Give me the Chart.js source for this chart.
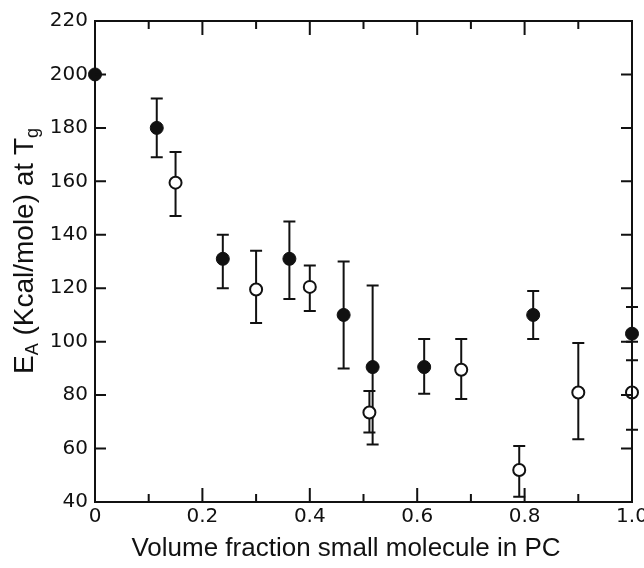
<!DOCTYPE html>
<html>
<head>
<meta charset="utf-8">
<script src="https://cdn.jsdelivr.net/npm/chart.js@4.4.1/dist/chart.umd.min.js"></script>
<style>
  html, body { margin: 0; padding: 0; background: #fff; }
  #wrap { width: 644px; height: 568px; }
</style>
</head>
<body>
<div id="wrap"><canvas id="chart" width="644" height="568"></canvas></div>
<script>
// filled circles
const xFilled = [0, 0.115, 0.238, 0.362, 0.463, 0.517, 0.613, 0.816, 1.0];
const yFilled = [200, 180, 131, 131, 110, 90.5, 90.5, 110, 103];
const hiFilled = [null, 191, 140, 145, 130, 121, 101, 119, 113];
const loFilled = [null, 169, 120, 116, 90, 61.5, 80.5, 101, 93];

// open circles
const xOpen = [0.15, 0.30, 0.40, 0.511, 0.682, 0.79, 0.90, 1.0];
const yOpen = [159.5, 119.5, 120.5, 73.5, 89.5, 52, 81, 81];
const hiOpen = [171, 134, 128.5, 81.5, 101, 61, 99.5, 100];
const loOpen = [147, 107, 111.5, 66, 78.5, 42, 63.5, 67];

const xTickLabels = ["0", "0.2", "0.4", "0.6", "0.8", "1.0"];
const xTitle = "Volume fraction small molecule in PC";

const TICKFONT = "'DejaVu Sans', sans-serif";
const TITLEFONT = "'Liberation Sans', Arial, sans-serif";

const toPoints = (xs, ys) => xs.map((x, i) => ({ x: x, y: ys[i] }));

// error bars, drawn before the markers so open circles sit on top
const errorBars = {
  id: "errorBars",
  beforeDatasetsDraw(chart) {
    const { ctx, scales: { x, y } } = chart;
    const sets = [[xFilled, hiFilled, loFilled], [xOpen, hiOpen, loOpen]];
    ctx.save();
    ctx.strokeStyle = "#111";
    ctx.lineWidth = 2;
    sets.forEach(([xs, his, los]) => {
      xs.forEach((xv, i) => {
        if (his[i] == null) return;
        const px = x.getPixelForValue(xv);
        const top = y.getPixelForValue(his[i]);
        const bot = y.getPixelForValue(los[i]);
        ctx.beginPath();
        ctx.moveTo(px, top); ctx.lineTo(px, bot);
        ctx.moveTo(px - 6, top); ctx.lineTo(px + 6, top);
        ctx.moveTo(px - 6, bot); ctx.lineTo(px + 6, bot);
        ctx.stroke();
      });
    });
    ctx.restore();
  }
};

// frame with inward ticks on all four sides, plus the axis titles
const frame = {
  id: "frame",
  afterDraw(chart) {
    const { ctx, chartArea: a, scales: { x, y } } = chart;
    ctx.save();
    ctx.strokeStyle = "#111";
    ctx.lineWidth = 2;
    ctx.strokeRect(a.left, a.top, a.right - a.left, a.bottom - a.top);
    ctx.beginPath();
    x.ticks.forEach((t) => {
      const px = x.getPixelForValue(t.value);
      const major = Math.round(t.value * 10) % 2 === 0;
      const len = major ? 14 : 8;
      ctx.moveTo(px, a.bottom); ctx.lineTo(px, a.bottom - len);
      ctx.moveTo(px, a.top); ctx.lineTo(px, a.top + len);
    });
    y.ticks.forEach((t) => {
      const py = y.getPixelForValue(t.value);
      ctx.moveTo(a.left, py); ctx.lineTo(a.left + 11, py);
      ctx.moveTo(a.right, py); ctx.lineTo(a.right - 11, py);
    });
    ctx.stroke();

    ctx.fillStyle = "#111";

    // x title
    ctx.font = "26px " + TITLEFONT;
    ctx.textAlign = "center";
    ctx.textBaseline = "alphabetic";
    ctx.fillText(xTitle, 346, 556);

    // y title with subscripts: E_A (Kcal/mole) at T_g
    ctx.translate(33, 251);
    ctx.rotate(-Math.PI / 2);
    ctx.textAlign = "left";
    const parts = [
      ["E", 28, 0], ["A", 18, 5], [" (Kcal/mole) at T", 28, 0], ["g", 18, 5]
    ];
    let w = 0;
    parts.forEach(([s, sz]) => { ctx.font = sz + "px " + TITLEFONT; w += ctx.measureText(s).width; });
    let cx = -w / 2;
    parts.forEach(([s, sz, dy]) => {
      ctx.font = sz + "px " + TITLEFONT;
      ctx.fillText(s, cx, dy);
      cx += ctx.measureText(s).width;
    });
    ctx.restore();
  }
};

new Chart(document.getElementById("chart"), {
  type: "scatter",
  data: {
    datasets: [
      {
        label: "filled",
        data: toPoints(xFilled, yFilled),
        pointRadius: 6.5,
        pointHoverRadius: 6.5,
        pointBackgroundColor: "#111",
        pointBorderColor: "#111",
        pointBorderWidth: 1,
        clip: false
      },
      {
        label: "open",
        data: toPoints(xOpen, yOpen),
        pointRadius: 6,
        pointHoverRadius: 6,
        pointBackgroundColor: "#fff",
        pointBorderColor: "#111",
        pointBorderWidth: 2,
        clip: false
      }
    ]
  },
  options: {
    responsive: false,
    animation: false,
    layout: { padding: { top: 21, right: 0, left: 0, bottom: 0 } },
    plugins: {
      legend: { display: false },
      tooltip: { enabled: false }
    },
    scales: {
      x: {
        type: "linear",
        min: 0,
        max: 1,
        afterFit: (s) => { s.height = 66; s.paddingRight = 12; s.paddingLeft = 0; },
        ticks: {
          stepSize: 0.1,
          autoSkip: false,
          maxRotation: 0,
          padding: 3,
          color: "#111",
          font: { family: TICKFONT, size: 20 },
          callback: (v) => {
            const k = Math.round(v * 10);
            return k % 2 === 0 ? xTickLabels[k / 2] : "";
          }
        },
        grid: { display: false, drawTicks: false },
        border: { display: false }
      },
      y: {
        type: "linear",
        min: 40,
        max: 220,
        afterFit: (s) => { s.width = 95; },
        ticks: {
          stepSize: 20,
          padding: 7,
          color: "#111",
          font: { family: TICKFONT, size: 20 }
        },
        grid: { display: false, drawTicks: false },
        border: { display: false }
      }
    }
  },
  plugins: [errorBars, frame]
});
</script>
</body>
</html>
